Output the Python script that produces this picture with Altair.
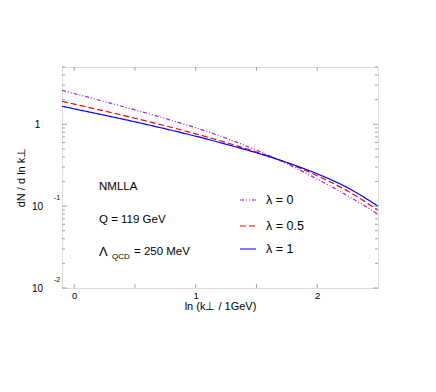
import altair as alt
import pandas as pd

# data
x_vals = [-0.1, 0.0, 0.25, 0.5, 0.75, 1.0, 1.25, 1.5, 1.75, 2.0, 2.25, 2.5]
lam0 = [2.598, 2.375, 1.892, 1.498, 1.174, 0.906, 0.675, 0.482, 0.330, 0.2135, 0.134, 0.0798]
lam05 = [1.908, 1.763, 1.449, 1.184, 0.956, 0.764, 0.598, 0.458, 0.338, 0.235, 0.153, 0.0894]
lam1 = [1.658, 1.541, 1.288, 1.070, 0.879, 0.714, 0.570, 0.448, 0.341, 0.248, 0.168, 0.100]
series_names = ["λ = 0", "λ = 0.5", "λ = 1"]
series_colors = ["#a020f0", "#ff0000", "#0000ff"]
series_dash = [[4, 2, 1, 2, 1, 2], [6, 3], [1, 0]]

x_major = [0, 1, 2]
x_ticks = [0, 0.5, 1, 1.5, 2]
y_major = [0.01, 0.1, 1]
y_minor = [0.02, 0.03, 0.04, 0.05, 0.06, 0.07, 0.08, 0.09,
           0.2, 0.3, 0.4, 0.5, 0.6, 0.7, 0.8, 0.9, 2, 3, 4, 5]
exponents = ["-1", "-2"]
exp_vals = [0.1, 0.01]

W, H = 316, 221
FONT = "Liberation Sans"
GRAY = "#8c8c8c"

rows = []
for name, ys in zip(series_names, [lam0, lam05, lam1]):
    for xv, yv in zip(x_vals, ys):
        rows.append({"x": xv, "y": yv, "series": name})
df = pd.DataFrame(rows)

xscale = alt.Scale(domain=[-0.1, 2.5], nice=False, zero=False)
yscale = alt.Scale(type="log", domain=[0.01, 5], nice=False)

lines = alt.Chart(df).mark_line(strokeWidth=1.2, interpolate="monotone").encode(
    x=alt.X("x:Q", scale=xscale,
            axis=alt.Axis(values=x_major, format="d", ticks=False, tickSize=0, domain=False,
                          grid=False, labelFont=FONT, labelFontSize=9.5, labelColor="black",
                          labelPadding=2, title="ln (k⊥ / 1GeV)", titleFont=FONT,
                          titleFontSize=11, titleFontWeight="normal", titleColor="black",
                          titleX=158, titleY=18, titleBaseline="middle")),
    y=alt.Y("y:Q", scale=yscale,
            axis=alt.Axis(values=y_major, ticks=False, tickSize=0, domain=False, grid=False,
                          labelExpr="datum.value == 1 ? '1' : '10'", labelAlign="center",
                          labelPadding=25, labelFont=FONT, labelFontSize=10,
                          labelColor="black", title="dN / d ln k⊥", titleFont=FONT,
                          titleFontSize=11, titleFontWeight="normal", titleColor="black",
                          titleAngle=270, titleX=-41, titleY=110, titleAlign="center",
                          titleBaseline="middle")),
    color=alt.Color("series:N", scale=alt.Scale(domain=series_names, range=series_colors),
                    sort=series_names, legend=None),
    strokeDash=alt.StrokeDash("series:N", scale=alt.Scale(domain=series_names, range=series_dash),
                              sort=series_names, legend=None),
)

tx = pd.DataFrame({"v": x_ticks})
ty_major = pd.DataFrame({"v": y_major})
ty_minor = pd.DataFrame({"v": y_minor})

tick_style = dict(color=GRAY, strokeWidth=0.8)
x_bottom = alt.Chart(tx).mark_rule(**tick_style).encode(
    x=alt.X("v:Q", scale=xscale), y=alt.value(H), y2=alt.value(H - 4))
x_top = alt.Chart(tx).mark_rule(**tick_style).encode(
    x=alt.X("v:Q", scale=xscale), y=alt.value(0), y2=alt.value(4))
y_left_major = alt.Chart(ty_major).mark_rule(**tick_style).encode(
    y=alt.Y("v:Q", scale=yscale), x=alt.value(0), x2=alt.value(5))
y_right_major = alt.Chart(ty_major).mark_rule(**tick_style).encode(
    y=alt.Y("v:Q", scale=yscale), x=alt.value(W), x2=alt.value(W - 5))
y_left_minor = alt.Chart(ty_minor).mark_rule(**tick_style).encode(
    y=alt.Y("v:Q", scale=yscale), x=alt.value(0), x2=alt.value(3))
y_right_minor = alt.Chart(ty_minor).mark_rule(**tick_style).encode(
    y=alt.Y("v:Q", scale=yscale), x=alt.value(W), x2=alt.value(W - 3))

exp_df = pd.DataFrame({"v": exp_vals, "t": exponents})
exp_text = alt.Chart(exp_df).mark_text(font=FONT, fontSize=7, align="center",
                                       baseline="middle", dy=-8).encode(
    y=alt.Y("v:Q", scale=yscale), x=alt.value(-5), text="t:N")

# hand-built legend
legend_rows = [133, 159, 182]
legend_layers = []
for name, col, dash, ly in zip(series_names, series_colors, series_dash, legend_rows):
    legend_layers.append(
        alt.Chart(pd.DataFrame({"t": [name]})).mark_rule(
            color=col, strokeDash=dash, strokeWidth=1.2).encode(
            x=alt.value(178), x2=alt.value(194), y=alt.value(ly)))
    legend_layers.append(
        alt.Chart(pd.DataFrame({"t": [name]})).mark_text(
            font=FONT, fontSize=12.5, align="left", baseline="middle", color="black").encode(
            x=alt.value(204), y=alt.value(ly), text="t:N"))

ann_style = dict(font=FONT, fontSize=11.5, align="left", baseline="middle", color="black")
ann1 = alt.Chart(pd.DataFrame({"t": ["NMLLA"]})).mark_text(**ann_style).encode(
    x=alt.value(37), y=alt.value(120), text="t:N")
ann2 = alt.Chart(pd.DataFrame({"t": ["Q = 119 GeV"]})).mark_text(**ann_style).encode(
    x=alt.value(37), y=alt.value(153), text="t:N")
ann3a = alt.Chart(pd.DataFrame({"t": ["Λ"]})).mark_text(
    font=FONT, fontSize=13, align="left", baseline="middle", color="black").encode(
    x=alt.value(37), y=alt.value(185), text="t:N")
ann3b = alt.Chart(pd.DataFrame({"t": ["QCD"]})).mark_text(
    font=FONT, fontSize=8, align="left", baseline="middle", color="black").encode(
    x=alt.value(50), y=alt.value(190), text="t:N")
ann3c = alt.Chart(pd.DataFrame({"t": ["= 250 MeV"]})).mark_text(**ann_style).encode(
    x=alt.value(72), y=alt.value(185), text="t:N")

chart = alt.layer(
    lines, x_bottom, x_top, y_left_major, y_right_major, y_left_minor, y_right_minor,
    exp_text, ann1, ann2, ann3a, ann3b, ann3c, *legend_layers
).properties(
    width=W, height=H,
    autosize=alt.AutoSizeParams(type="none"),
    padding={"left": 54, "top": 59, "right": 50, "bottom": 90},
).configure_view(
    stroke=GRAY, strokeWidth=1
).configure(background="white")

chart.save("out.html", embed_options={"renderer": "svg", "actions": False})
